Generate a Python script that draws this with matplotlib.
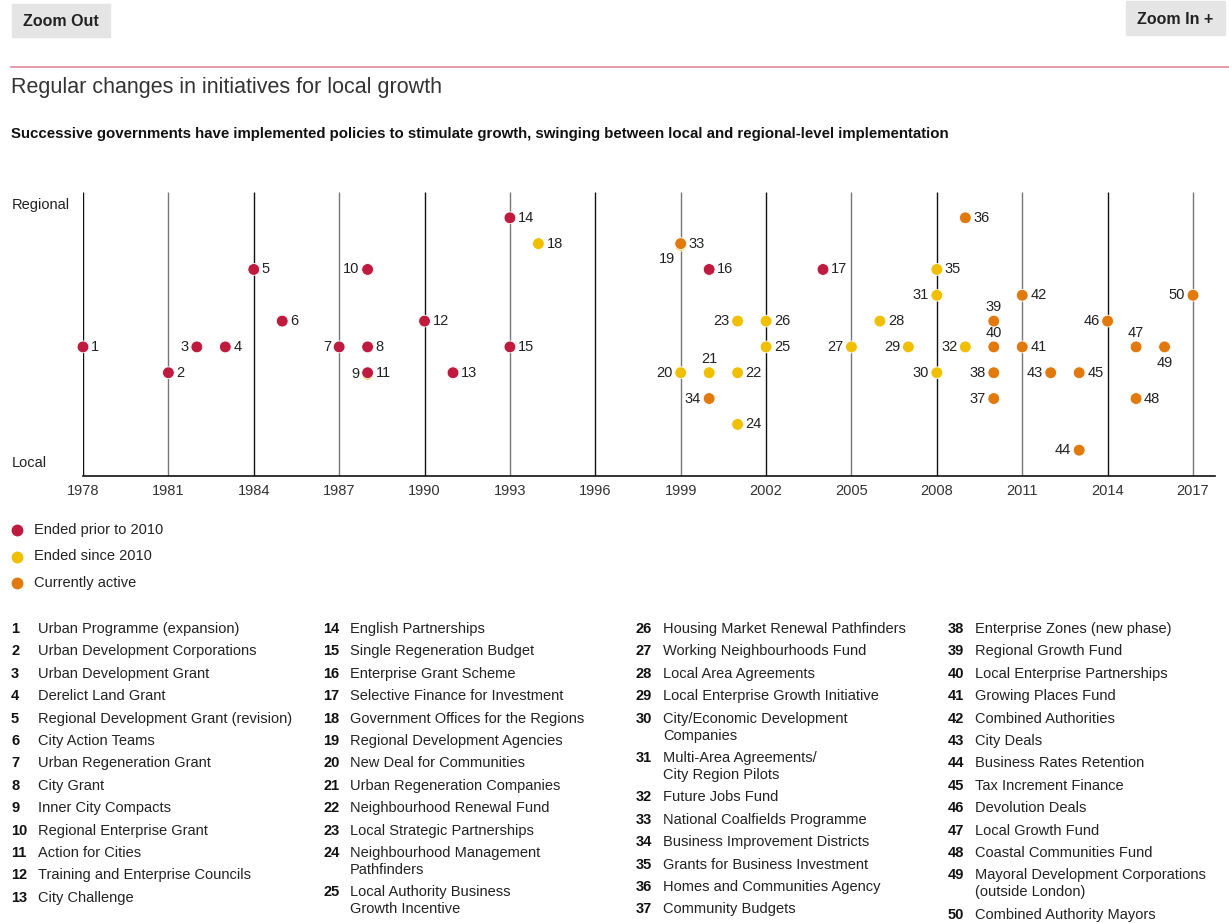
import numpy as np
import matplotlib
matplotlib.use("Agg")
import matplotlib.pyplot as plt
from matplotlib.patches import Rectangle

plt.rcParams['font.family'] = ['Liberation Sans', 'DejaVu Sans']

# ---- data ----
ids = list(range(1, 51))
start_year = [1978, 1981, 1982, 1983, 1984, 1985, 1987, 1988, 1988, 1988,
              1988, 1990, 1991, 1993, 1993, 2000, 2004, 1994, 1999, 1999,
              2000, 2001, 2001, 2001, 2002, 2002, 2005, 2006, 2007, 2008,
              2008, 2009, 1999, 2000, 2008, 2009, 2010, 2010, 2010, 2010,
              2011, 2011, 2012, 2013, 2013, 2014, 2015, 2015, 2016, 2017]
# 0 = local ... 11 = regional
level = [5, 4, 5, 5, 8, 6, 5, 5, 3.94, 8,
         4, 6, 4, 10, 5, 8, 8, 9, 8.94, 4,
         4, 4, 6, 2, 5, 6, 5, 6, 5, 4,
         7, 5, 9, 3, 8, 10, 3, 4, 6, 5,
         5, 7, 4, 1, 4, 6, 5, 3, 5, 7]
# p = ended prior to 2010, s = ended since 2010, a = currently active
status = ['p', 'p', 'p', 'p', 'p', 'p', 'p', 'p', 's', 'p',
          'p', 'p', 'p', 'p', 'p', 'p', 'p', 's', 's', 's',
          's', 's', 's', 's', 's', 's', 's', 's', 's', 's',
          's', 's', 'a', 'a', 's', 'a', 'a', 'a', 'a', 'a',
          'a', 'a', 'a', 'a', 'a', 'a', 'a', 'a', 'a', 'a']
# where the number sits: r right, l left, a above, b below, bl below-left
label_pos = ['r', 'r', 'l', 'r', 'r', 'r', 'l', 'r', 'l', 'l',
             'r', 'r', 'r', 'r', 'r', 'r', 'r', 'r', 'bl', 'l',
             'a', 'r', 'l', 'r', 'r', 'r', 'l', 'r', 'l', 'l',
             'l', 'l', 'r', 'l', 'r', 'r', 'l', 'l', 'a', 'a',
             'r', 'r', 'l', 'l', 'r', 'l', 'a', 'r', 'b', 'l']

names = ["Urban Programme (expansion)", "Urban Development Corporations",
         "Urban Development Grant", "Derelict Land Grant",
         "Regional Development Grant (revision)", "City Action Teams",
         "Urban Regeneration Grant", "City Grant", "Inner City Compacts",
         "Regional Enterprise Grant", "Action for Cities",
         "Training and Enterprise Councils", "City Challenge",
         "English Partnerships", "Single Regeneration Budget",
         "Enterprise Grant Scheme", "Selective Finance for Investment",
         "Government Offices for the Regions", "Regional Development Agencies",
         "New Deal for Communities", "Urban Regeneration Companies",
         "Neighbourhood Renewal Fund", "Local Strategic Partnerships",
         "Neighbourhood Management\nPathfinders",
         "Local Authority Business\nGrowth Incentive",
         "Housing Market Renewal Pathfinders", "Working Neighbourhoods Fund",
         "Local Area Agreements", "Local Enterprise Growth Initiative",
         "City/Economic Development\nCompanies",
         "Multi-Area Agreements/\nCity Region Pilots", "Future Jobs Fund",
         "National Coalfields Programme", "Business Improvement Districts",
         "Grants for Business Investment", "Homes and Communities Agency",
         "Community Budgets", "Enterprise Zones (new phase)",
         "Regional Growth Fund", "Local Enterprise Partnerships",
         "Growing Places Fund", "Combined Authorities", "City Deals",
         "Business Rates Retention", "Tax Increment Finance",
         "Devolution Deals", "Local Growth Fund", "Coastal Communities Fund",
         "Mayoral Development Corporations\n(outside London)",
         "Combined Authority Mayors"]
columns = [(1, 13), (14, 25), (26, 37), (38, 50)]

grid_years = list(range(1978, 2018, 3))
legend_labels = ["Ended prior to 2010", "Ended since 2010", "Currently active"]
colors = {'p': '#bf1b3f', 's': '#f0c000', 'a': '#e2790c'}

W, H = 1229, 923
fig = plt.figure(figsize=(W / 100, H / 100), dpi=100)


def fx(px):
    return px / W


def fy(py):
    return 1 - py / H


# header buttons and rule
for (x0, y0, w, h, txt) in [(12, 4, 98, 33, "Zoom Out"), (1126, 1, 99, 34, "Zoom In +")]:
    fig.patches.append(Rectangle((fx(x0), fy(y0 + h)), w / W, h / H,
                                 transform=fig.transFigure, color='#e5e5e5'))
    fig.text(fx(x0 + w / 2), fy(y0 + h / 2 + 1), txt, ha='center', va='center',
             fontsize=11.5, weight='bold', color='#222')
fig.add_artist(plt.Line2D([fx(11), 1], [fy(67), fy(67)], transform=fig.transFigure,
                          color='#e08b9c', lw=1.2))
fig.text(fx(11), fy(87), "Regular changes in initiatives for local growth",
         fontsize=15.5, color='#333', va='center')
fig.text(fx(11), fy(134), "Successive governments have implemented policies to stimulate "
         "growth, swinging between local and regional-level implementation",
         fontsize=10.8, weight='bold', color='#111', va='center')

# ---- main chart ----
px_per_year = (1193 - 83) / 39
x_right = 1978 + (1215 - 83) / px_per_year
ax = fig.add_axes([fx(83), fy(476), (1215 - 83) / W, (476 - 192) / H])
ax.set_xlim(1978, x_right)
ax.set_ylim(0, 11)
for s in ['top', 'right', 'left']:
    ax.spines[s].set_visible(False)
ax.spines['bottom'].set_color('#111')
ax.spines['bottom'].set_linewidth(1.2)
for i, yr in enumerate(grid_years):
    ax.vlines(yr, 0, 11, color='#111' if i % 2 == 0 else '#777', lw=1.0, zorder=1)
ax.set_xticks(grid_years)
ax.set_xticklabels([str(y) for y in grid_years], fontsize=10.5, color='#333')
ax.tick_params(axis='x', length=0, pad=6)
ax.set_yticks([])

xs = np.array(start_year)
ys = np.array(level)
cs = [colors[s] for s in status]
ax.scatter(xs, ys, s=72, c=cs, edgecolors='white', linewidths=0.6, zorder=3, clip_on=False)

offsets = {'r': (8, 0, 'left', 'center'), 'l': (-8, 0, 'right', 'center'),
           'a': (0, 7, 'center', 'bottom'), 'b': (0, -9, 'center', 'top'),
           'bl': (-6, -7, 'right', 'top')}
for i, x, y, p in zip(ids, xs, ys, label_pos):
    dx, dy, ha, va = offsets[p]
    ax.annotate(str(i), (x, y), xytext=(dx * 0.72, dy * 0.72), textcoords='offset points',
                ha=ha, va=va, fontsize=10.5, color='#222', zorder=4)

fig.text(fx(12), fy(205), "Regional", fontsize=10.5, color='#222', va='center')
fig.text(fx(12), fy(463), "Local", fontsize=10.5, color='#222', va='center')

# legend
for k, (key, lab) in enumerate(zip(['p', 's', 'a'], legend_labels)):
    yy = 530 + 26.5 * k
    fig.add_artist(plt.Line2D([fx(17)], [fy(yy)], marker='o', markersize=7.5,
                              color=colors[key], transform=fig.transFigure, lw=0))
    fig.text(fx(34), fy(yy), lab, fontsize=10.5, color='#222', va='center')

# index list
col_x = [11, 323, 636, 948]
for (a, b), cx in zip(columns, col_x):
    yy = 629
    for i in range(a, b + 1):
        fig.text(fx(cx), fy(yy), str(i), fontsize=10.5, weight='bold', color='#111', va='center')
        lines = names[i - 1].split('\n')
        for j, ln in enumerate(lines):
            fig.text(fx(cx + 27), fy(yy + 17 * j), ln, fontsize=10.5, color='#222', va='center')
        yy += 22.4 + 17 * (len(lines) - 1)

fig.savefig("out.png", dpi=100)
